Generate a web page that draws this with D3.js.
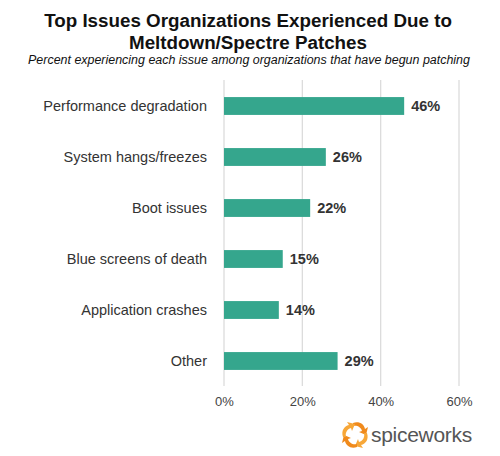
<!DOCTYPE html>
<html><head><meta charset="utf-8">
<script src="https://cdn.jsdelivr.net/npm/d3@7/dist/d3.min.js"></script>
<style>body{margin:0;background:#fff;}svg{display:block;font-family:Arial,"Liberation Sans",sans-serif;}</style>
</head><body>
<svg id="c" width="500" height="456"></svg>
<script>
const categories = ["Performance degradation","System hangs/freezes","Boot issues","Blue screens of death","Application crashes","Other"];
const values = [46,26,22,15,14,29];
const tickValues = [0,20,40,60];
const titleLines = ["Top Issues Organizations Experienced Due to","Meltdown/Spectre Patches"];
const subtitle = "Percent experiencing each issue among organizations that have begun patching";

const svg = d3.select("#c");
const x = d3.scaleLinear().domain([0,60]).range([224,459]);
const y = d3.scaleBand().domain(categories).range([80.5,386.5]).paddingInner(0.65).paddingOuter(0.325);

svg.selectAll(".t").data(titleLines).join("text")
  .attr("x",248).attr("y",(d,i)=>27+i*22).attr("text-anchor","middle")
  .attr("font-size",18.8).attr("font-weight","bold").attr("fill","#111").text(d=>d);
svg.append("text").attr("x",249).attr("y",64).attr("text-anchor","middle")
  .attr("font-size",12.45).attr("font-style","italic").attr("fill","#111").text(subtitle);

// gridlines
svg.append("g").selectAll("line").data(tickValues).join("line")
  .attr("x1",d=>x(d)).attr("x2",d=>x(d)).attr("y1",80).attr("y2",386)
  .attr("stroke","#dcdcdc").attr("stroke-width",1.3);

// x axis
const xa = svg.append("g").attr("transform","translate(0,386)")
  .call(d3.axisBottom(x).tickValues(tickValues).tickFormat(d=>d+"%").tickSize(0).tickPadding(11));
xa.select(".domain").remove();
xa.selectAll("text").attr("font-size",13).attr("fill","#444").attr("font-family","Arial, 'Liberation Sans', sans-serif");

// y axis
const ya = svg.append("g").attr("transform","translate(224,0)")
  .call(d3.axisLeft(y).tickSize(0).tickPadding(17));
ya.select(".domain").remove();
ya.selectAll("text").attr("font-size",14.5).attr("fill","#333").attr("font-family","Arial, 'Liberation Sans', sans-serif");

const data = categories.map((c,i)=>({c,v:values[i]}));
svg.append("g").selectAll("rect").data(data).join("rect")
  .attr("x",x(0)).attr("y",d=>y(d.c)).attr("width",d=>x(d.v)-x(0)).attr("height",y.bandwidth())
  .attr("fill","#35a68d");
svg.append("g").selectAll("text").data(data).join("text")
  .attr("x",d=>x(d.v)+7).attr("y",d=>y(d.c)+y.bandwidth()/2).attr("dy","0.36em")
  .attr("font-size",14.5).attr("font-weight","bold").attr("fill","#333").text(d=>d.v+"%");

// spiceworks logo
const logo = svg.append("g").attr("transform","translate(355,435)");
const arm = "M-2,-12 C4,-14 9,-11 10,-6 L13,-8 L11,0 L4,-3 L7,-4 C6,-8 2,-10 -2,-9 Z";
[0,90,180,270].forEach((a,i)=>{
  logo.append("path").attr("d",arm).attr("transform",`rotate(${a})`)
    .attr("fill", i%2? "#f7a738":"#f08a1c");
});
svg.append("text").attr("x",371).attr("y",442).attr("font-size",21).attr("fill","#555")
  .attr("letter-spacing","-0.3").text("spiceworks");
</script>
</body></html>
